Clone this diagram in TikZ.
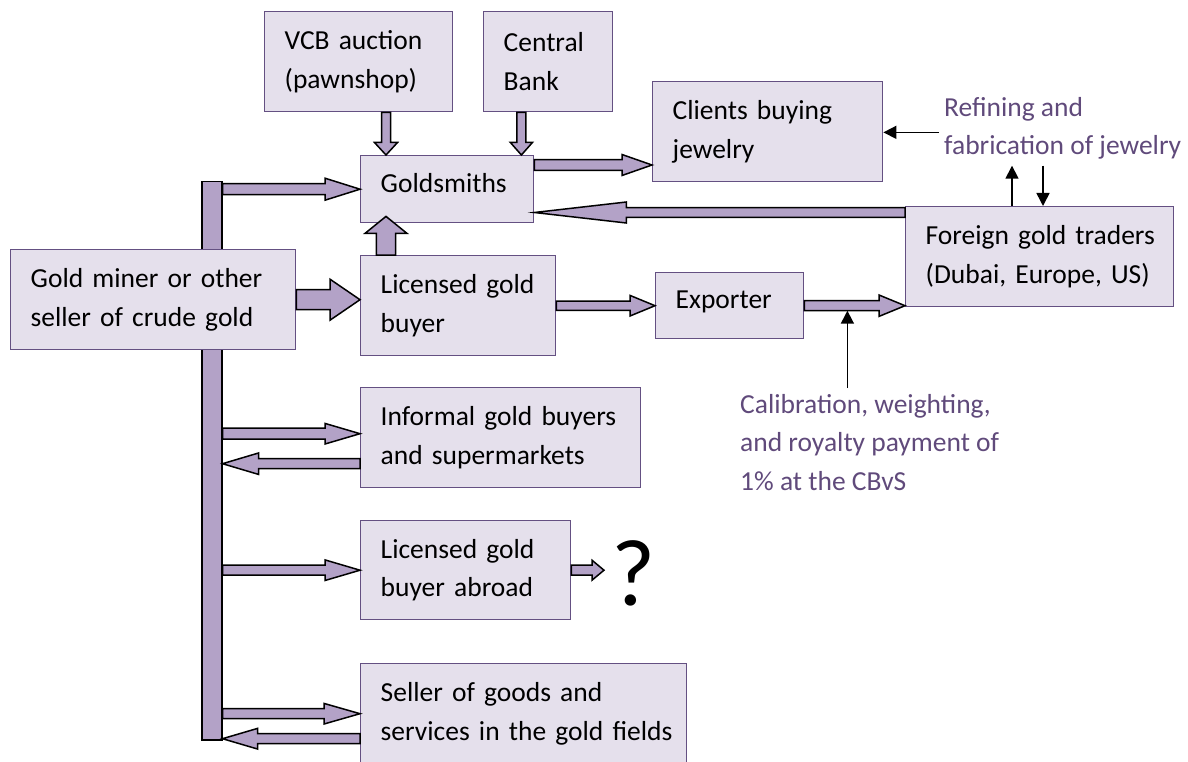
\documentclass[tikz,border=0pt]{standalone}
\usepackage{fontspec}
\setmainfont{Carlito}
\usetikzlibrary{calc,arrows.meta}

\definecolor{boxfill}{RGB}{229,224,236}
\definecolor{boxline}{RGB}{100,80,130}
\definecolor{arrowfill}{RGB}{179,162,199}
\definecolor{notetext}{RGB}{96,74,123}

\tikzset{
	box/.style={draw=boxline,fill=boxfill,line width=1.4pt,inner xsep=20pt,inner ysep=0pt,
		align=left,anchor=north west,font=\fontsize{27.5}{38.5}\selectfont},
	note/.style={text=notetext,inner xsep=0pt,align=left,anchor=north west,
		font=\fontsize{27.5}{38.5}\selectfont},
	qmark/.style={inner xsep=7pt,inner ysep=0pt,font=\fontsize{95}{95}\selectfont},
	blockarrow/.style={draw=black,fill=arrowfill,line width=1.5pt,line join=miter},
	thinarrow/.style={draw=black,line width=1.6pt,-{Triangle[length=13pt,width=13pt]}}
}

\newcommand{\blockarr}[5]{%
	\path[blockarrow] let \p1=(#1), \p2=(#2),
		\n1={veclen(\x2-\x1,\y2-\y1)}, \n2={(\x2-\x1)/\n1}, \n3={(\y2-\y1)/\n1} in
		({\x1-#3*\n3},{\y1+#3*\n2}) -- ({\x2-#5*\n2-#3*\n3},{\y2-#5*\n3+#3*\n2})
		-- ({\x2-#5*\n2-#4*\n3},{\y2-#5*\n3+#4*\n2}) -- (\p2)
		-- ({\x2-#5*\n2+#4*\n3},{\y2-#5*\n3-#4*\n2}) -- ({\x2-#5*\n2+#3*\n3},{\y2-#5*\n3-#3*\n2})
		-- ({\x1+#3*\n3},{\y1-#3*\n2}) -- cycle;}

\begin{document}
\begin{tikzpicture}[x=1pt,y=-1pt]
		\useasboundingbox (0,0) rectangle (1188,762);
		\clip (0,0) rectangle (1188,762);
		
		\node[draw=black,fill=arrowfill,line width=1.5pt,inner sep=0pt,minimum width=20pt,
			minimum height=558pt,anchor=north west] (bar) at (201,181) {};
		
		\node[box,text width=148pt,minimum height=100pt] (vcb) at (264,11) {VCB auction\\(pawnshop)};
		\node[box,text width=89pt,minimum height=100pt] (cb) at (483,11) {Central\\Bank};
		\node[box,text width=190pt,minimum height=100pt] (clients) at (652,81) {Clients buying\\jewelry};
		\node[box,text width=133pt,minimum height=67pt,text height=20pt,text depth=14pt] (gold) at (360,155) {Goldsmiths};
		\node[box,text width=245pt,minimum height=100pt] (miner) at (10,249) {Gold miner or other\\seller of crude gold};
		\node[box,text width=155pt,minimum height=100pt] (lic) at (360,255) {Licensed gold\\buyer};
		\node[box,text width=108pt,minimum height=66pt,text height=20pt,text depth=14pt] (exp) at (655,272) {Exporter};
		\node[box,text width=228pt,minimum height=100pt] (foreign) at (905,206) {\mbox{Foreign gold traders}\\\mbox{(Dubai, Europe, US)}};
		\node[box,text width=240pt,minimum height=100pt] (inf) at (360,387) {\mbox{Informal gold buyers}\\and supermarkets};
		\node[box,text width=170pt,minimum height=99pt] (abroad) at (360,520) {Licensed gold\\buyer abroad};
		\node[box,text width=286pt,minimum height=100pt] (seller) at (360,663) {Seller of goods and\\\mbox{services in the gold fields}};
		
		\node[qmark,anchor=base west] (qm) at (604,605) {?};
		\node[note,inner ysep=6pt] (calib) at (740,388) {Calibration, weighting,\\and royalty payment of\\1\% at the CBvS};
		\node[note,inner xsep=5pt,inner ysep=6pt] (refine) at (939,91) {Refining and\\fabrication of jewelry};
		
		\coordinate (g1) at ([xshift=26pt]gold.north west);
		\coordinate (g2) at ([xshift=-13pt]gold.north east);
		\coordinate (g3) at ([yshift=-10pt]gold.north east);
		\coordinate (g4) at ([xshift=26pt,yshift=7pt]gold.south west);
		\coordinate (f1) at ([yshift=-6.5pt]foreign.north west);
		\coordinate (i1) at ([yshift=4pt]inf.west);
		\coordinate (i2) at ([yshift=-26pt]inf.west);
		\coordinate (s2) at ([yshift=-25pt]seller.west);
		\coordinate (ea) at ([xshift=43pt,yshift=-5pt]exp.east);
		\coordinate (r1) at ([yshift=-4pt]refine.west);
		\coordinate (fu) at ([xshift=107pt]foreign.north west);
		\coordinate (fd) at ([xshift=138pt]foreign.north west);
		
		\blockarr{g1 |- vcb.south}{g1}{4.5}{11.5}{12.5}
		\blockarr{g2 |- cb.south}{g2}{4.5}{11}{12.5}
		\blockarr{g4 |- lic.north}{g4}{9.7}{21}{17}
		\blockarr{bar.east |- gold.west}{gold.west}{5.5}{11}{35}
		\blockarr{g3}{g3 -| clients.west}{5.3}{10.5}{30}
		\blockarr{f1}{f1 -| gold.east}{4.8}{10.5}{92}
		\blockarr{miner.east}{miner.east -| lic.west}{10}{20.5}{30}
		\blockarr{lic.east |- exp.west}{exp.west}{4.7}{10.3}{25}
		\blockarr{exp.east}{exp.east -| foreign.west}{5}{10.7}{26}
		\blockarr{bar.east |- i1}{i1}{5.5}{10.3}{35}
		\blockarr{i2}{i2 -| bar.east}{5}{10.7}{36}
		\blockarr{bar.east |- abroad.west}{abroad.west}{5}{10.3}{35}
		\blockarr{abroad.east}{abroad.east -| qm.west}{5}{10}{12}
		\blockarr{bar.east |- seller.west}{seller.west}{5}{10.3}{36}
		\blockarr{s2}{s2 -| bar.east}{5}{10.3}{35}
		
		\draw[thinarrow] (ea |- calib.north) -- (ea);
		\draw[thinarrow] (r1) -- (r1 -| clients.east);
		\draw[thinarrow] (fu) -- (fu |- refine.south);
		\draw[thinarrow] (fd |- refine.south) -- (fd);
	\end{tikzpicture}
\end{document}
